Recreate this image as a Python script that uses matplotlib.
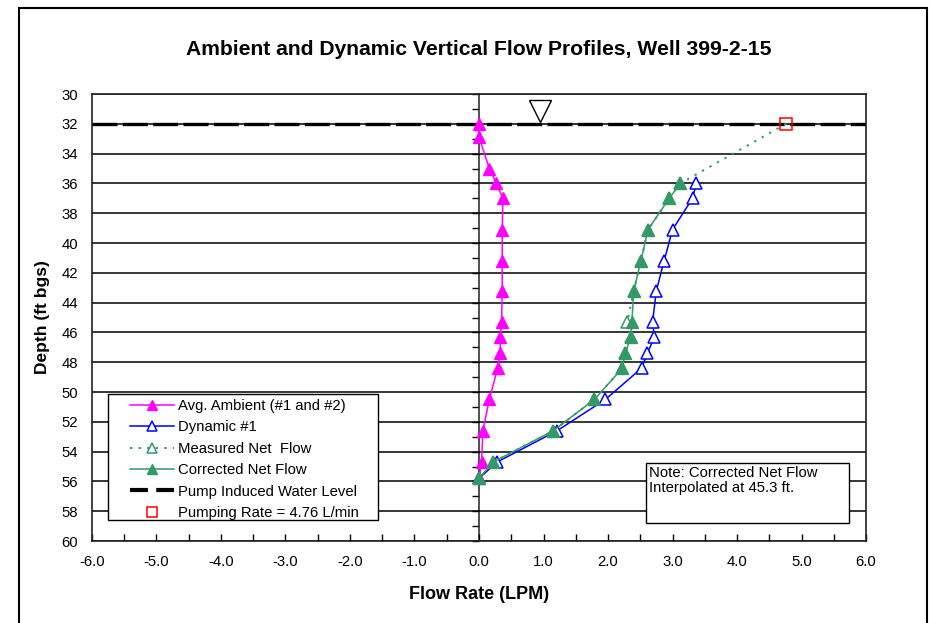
import matplotlib
matplotlib.use('Agg')
import matplotlib.pyplot as plt
import matplotlib.ticker as mticker
from matplotlib.patches import Rectangle
from matplotlib.lines import Line2D
import numpy as np

plt.rcParams['font.family'] = ['Liberation Sans', 'DejaVu Sans']

# depths (ft bgs) and flow rates (LPM)
ambient_depth = [32.0, 32.9, 35.0, 36.0, 37.0, 39.1, 41.2, 43.2, 45.3, 46.3, 47.4, 48.4, 50.5, 52.6, 54.7, 55.8]
ambient_flow = [0.0, 0.0, 0.16, 0.27, 0.37, 0.36, 0.36, 0.36, 0.35, 0.33, 0.33, 0.29, 0.16, 0.06, 0.04, 0.0]

dyn_depth = [36.0, 37.0, 39.1, 41.2, 43.2, 45.3, 46.3, 47.4, 48.4, 50.5, 52.6, 54.7, 55.8]
dyn_flow = [3.37, 3.31, 3.00, 2.87, 2.75, 2.69, 2.72, 2.61, 2.52, 1.96, 1.21, 0.28, 0.0]

meas_depth = [32.0, 36.0, 37.0, 39.1, 41.2, 43.2, 45.3, 46.3, 47.4, 48.4, 50.5, 52.6, 54.7, 55.8]
meas_flow = [4.76, 3.12, 2.95, 2.62, 2.51, 2.40, 2.30, 2.35, 2.27, 2.22, 1.79, 1.15, 0.22, 0.0]

corr_depth = [36.0, 37.0, 39.1, 41.2, 43.2, 45.3, 46.3, 47.4, 48.4, 50.5, 52.6, 54.7, 55.8]
corr_flow = [3.12, 2.95, 2.62, 2.51, 2.40, 2.37, 2.35, 2.27, 2.22, 1.79, 1.15, 0.22, 0.0]

water_level = 32.0
pump_rate = 4.76
static_marker = (0.95, 31.15)

x_ticks = np.arange(-6, 6.1, 1.0)
y_ticks = np.arange(30, 61, 2)

magenta = '#FF00FF'
blue = '#0000FF'
green = '#339966'
fs = 10.7

fig = plt.figure(figsize=(9.31, 6.23), dpi=100)
ax = fig.add_axes([0.0988, 0.1316, 0.8314, 0.7175])

ax.set_xlim(-6, 6)
ax.set_ylim(60, 30)
ax.set_xticks(x_ticks)
ax.set_xticklabels(['%.1f' % v for v in x_ticks])
ax.xaxis.set_minor_locator(mticker.MultipleLocator(0.5))
ax.tick_params(axis='x', which='both', direction='in', length=5, width=1, pad=10, labelsize=fs)
ax.set_yticks(y_ticks)
ax.tick_params(axis='y', which='both', length=0, pad=10, labelsize=fs)
ax.set_axisbelow(True)
ax.yaxis.grid(True, color='black', lw=1.1)
for s in ax.spines.values():
    s.set_linewidth(1.2)
    s.set_color('#222222')

# vertical axis crossing at zero flow
sec = ax.secondary_yaxis(0.5)
sec.set_alignment('left')
sec.set_yticks(np.arange(30, 61, 1))
sec.tick_params(axis='y', direction='out', length=5, width=1, labelleft=False, labelright=False)
sec.spines['left'].set_linewidth(1.2)
sec.spines['left'].set_color('#333333')

ax.axhline(water_level, color='black', lw=2.4, dashes=(7.5, 1.6), zorder=3)

h_amb, = ax.plot(ambient_flow, ambient_depth, color=magenta, lw=1.1, marker='^', ms=8,
                 mfc=magenta, mec=magenta, zorder=4)
h_dyn, = ax.plot(dyn_flow, dyn_depth, color=blue, lw=1.1, marker='^', ms=8,
                 mfc='white', mec=blue, mew=1.1, zorder=4)
h_meas, = ax.plot(meas_flow, meas_depth, color=green, lw=1.4, ls=(0, (1.2, 3.2)), marker='^', ms=8,
                  mfc='white', mec=green, mew=1.1, markevery=list(range(1, len(meas_flow))), zorder=4)
h_corr, = ax.plot(corr_flow, corr_depth, color=green, lw=1.1, marker='^', ms=8,
                  mfc=green, mec=green, zorder=5)
h_pump, = ax.plot([pump_rate], [water_level], ls='none', marker='s', ms=9,
                  mfc='none', mec='#FF0000', mew=1.1, zorder=6)
ax.plot([static_marker[0]], [static_marker[1]], ls='none', marker='v', ms=16,
        mfc='white', mec='black', mew=1.0, zorder=6)

ax.set_title('Ambient and Dynamic Vertical Flow Profiles, Well 399-2-15',
             fontsize=15.2, fontweight='bold', pad=28)
ax.set_xlabel('Flow Rate (LPM)', fontsize=13, fontweight='bold', labelpad=12)
ax.set_ylabel('Depth (ft bgs)', fontsize=12.5, fontweight='bold', labelpad=8)

# legend box
ax.add_patch(Rectangle((0.0207, 0.047), 0.349, 0.282, transform=ax.transAxes,
                       fc='white', ec='black', lw=1, zorder=7))
leg_wl = Line2D([], [], color='black', lw=3, dashes=(4.3, 2.0))
leg = ax.legend([h_amb, h_dyn, h_meas, h_corr, leg_wl, h_pump],
                ['Avg. Ambient (#1 and #2)', 'Dynamic #1', 'Measured Net  Flow',
                 'Corrected Net Flow', 'Pump Induced Water Level', 'Pumping Rate = 4.76 L/min'],
                loc='upper left', bbox_to_anchor=(0.049, 0.318), frameon=False, borderpad=0,
                borderaxespad=0, handlelength=3.0, handletextpad=0.25, labelspacing=0.5,
                fontsize=fs, markerscale=0.85)
leg.set_zorder(8)

# note box
ax.add_patch(Rectangle((0.716, 0.040), 0.262, 0.1345, transform=ax.transAxes,
                       fc='white', ec='black', lw=1, zorder=7))
ax.text(0.719, 0.168, 'Note: Corrected Net Flow\nInterpolated at 45.3 ft.', transform=ax.transAxes,
        ha='left', va='top', fontsize=fs, linespacing=1.1, zorder=8)

# outer chart border
fig.add_artist(Rectangle((0.0204, -0.05), 0.9753, 1.037, transform=fig.transFigure,
                         fill=False, lw=1.5, ec='black'))

fig.savefig('out.png', dpi=100)
